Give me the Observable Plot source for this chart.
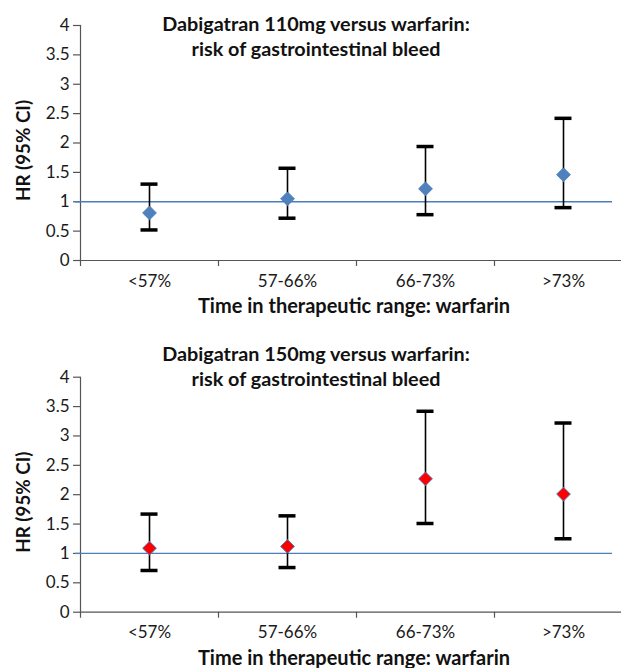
<!DOCTYPE html>
<html>
<head>
<meta charset="utf-8">
<script src="https://cdn.jsdelivr.net/npm/d3@7"></script>
<script src="https://cdn.jsdelivr.net/npm/@observablehq/plot@0.6"></script>
<style>
  html, body { margin: 0; padding: 0; background: #fff; }
  #charts svg { display: block; }
</style>
</head>
<body>
<div id="charts"></div>
<script>
const categories = ["<57%", "57-66%", "66-73%", ">73%"];
const yTicks = [0, 0.5, 1, 1.5, 2, 2.5, 3, 3.5, 4];

const hr110 = [0.81, 1.05, 1.22, 1.46];
const lo110 = [0.52, 0.72, 0.78, 0.90];
const hi110 = [1.30, 1.57, 1.94, 2.42];

const hr150 = [1.09, 1.12, 2.27, 2.01];
const lo150 = [0.71, 0.76, 1.51, 1.25];
const hi150 = [1.67, 1.64, 3.42, 3.22];

const titles110 = ["Dabigatran 110mg versus warfarin:", "risk of gastrointestinal bleed"];
const titles150 = ["Dabigatran 150mg versus warfarin:", "risk of gastrointestinal bleed"];
const xLabel = "Time in therapeutic range: warfarin";
const yLabel = "HR (95% CI)";
const refValue = [1];

const rows = (hr, lo, hi) => categories.map((c, i) => ({cat: c, hr: hr[i], lo: lo[i], hi: hi[i]}));

function chart({data, titles, height, marginTop, marginBottom, titleDy, fill, stroke}) {
  const axisColor = "#555";
  const tickFont = {fontFamily: "Lato, sans-serif", fontSize: 17, fill: "#1a1a1a"};
  return Plot.plot({
    width: 621,
    height,
    marginLeft: 80,
    marginRight: 0,
    marginTop,
    marginBottom,
    style: {fontFamily: "Lato, sans-serif", fontSize: "14px", color: "#1a1a1a", background: "#fff"},
    x: {domain: categories, range: [80, 632], padding: 0, axis: null},
    y: {domain: [0, 4], axis: null},
    marks: [
      Plot.tickY(yTicks, {y: d => d, frameAnchor: "left", insetLeft: -7, insetRight: 541, stroke: axisColor, strokeWidth: 1.2}),
      Plot.text(yTicks, {y: d => d, text: d => String(d), frameAnchor: "left", textAnchor: "end", dx: -11, ...tickFont}),
      Plot.text(categories, {x: d => d, text: d => d, frameAnchor: "bottom", lineAnchor: "top", dy: 14, ...tickFont}),
      Plot.frame({anchor: "left", stroke: axisColor, strokeWidth: 1.2}),
      Plot.ruleY([0], {stroke: axisColor, strokeWidth: 1.2}),
      Plot.ruleX(categories, {x: d => d, y1: 0, y2: 0, insetBottom: -6, dx: -69, stroke: axisColor, strokeWidth: 1.2}),
      Plot.ruleY(refValue, {stroke: "#4A7EBB", strokeWidth: 1.3, insetLeft: -5, insetRight: 9}),
      Plot.ruleX(data, {x: "cat", y1: "lo", y2: "hi", stroke: "#000", strokeWidth: 1.6}),
      Plot.tickY(data, {x: "cat", y: "hi", inset: 60.5, stroke: "#000", strokeWidth: 3.5}),
      Plot.tickY(data, {x: "cat", y: "lo", inset: 60.5, stroke: "#000", strokeWidth: 3.5}),
      Plot.dot(data, {x: "cat", y: "hr", symbol: "diamond2", r: 6.2, fill, stroke, strokeWidth: 1}),
      Plot.text([titles[0]], {frameAnchor: "top", lineAnchor: "middle", dx: -35, dy: titleDy, fontWeight: "bold", fontSize: 19.8, fill: "#111"}),
      Plot.text([titles[1]], {frameAnchor: "top", lineAnchor: "middle", dx: -35, dy: titleDy + 25, fontWeight: "bold", fontSize: 19.8, fill: "#111"}),
      Plot.text([xLabel], {frameAnchor: "bottom", lineAnchor: "middle", dx: 3, dy: 46, fontWeight: "bold", fontSize: 20, fill: "#111"}),
      Plot.text([yLabel], {frameAnchor: "left", textAnchor: "middle", rotate: -90, lineAnchor: "middle", dx: -57, dy: 7.5, fontWeight: "bold", fontSize: 18.8, fill: "#111"})
    ]
  });
}

const root = document.getElementById("charts");
root.append(chart({data: rows(hr110, lo110, hi110), titles: titles110, height: 330, marginTop: 25, marginBottom: 70, titleDy: -1, fill: "#4F81BD", stroke: "#4F81BD"}));
root.append(chart({data: rows(hr150, lo150, hi150), titles: titles150, height: 338, marginTop: 46.7, marginBottom: 56.3, titleDy: -22.7, fill: "#FF0000", stroke: "#4F81BD"}));
</script>
</body>
</html>
